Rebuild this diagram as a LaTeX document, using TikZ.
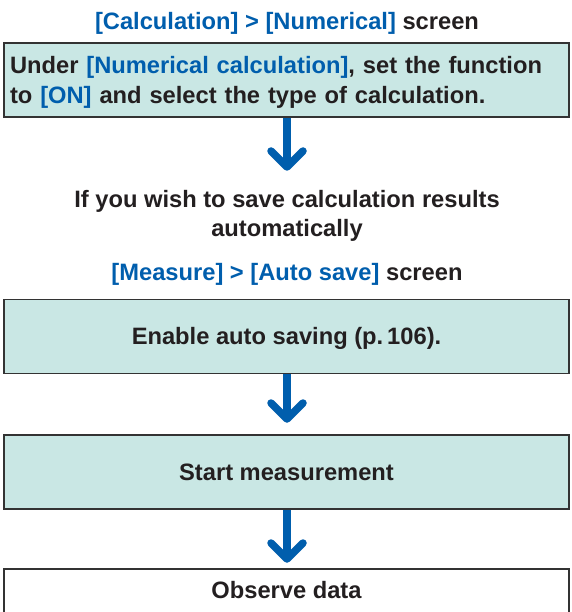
\documentclass[tikz,border=0pt]{standalone}
\usepackage{fontspec}
\setmainfont{Liberation Sans}
\usetikzlibrary{calc}
\definecolor{hblue}{HTML}{005EAD}
\definecolor{htext}{HTML}{231F20}
\definecolor{hfill}{HTML}{C9E7E4}
\definecolor{hedge}{HTML}{333333}
\tikzset{
  txt/.style={font=\bfseries\fontsize{23.7}{29.4}\selectfont, text=htext, inner sep=0pt},
  stepbox/.style={draw=hedge, line width=1.3pt, fill=hfill, minimum width=565pt, minimum height=74pt, inner sep=0pt, txt, text height=16.7pt, text depth=0pt},
  flowarrow/.style={draw=hblue, line width=7.5pt},
  chevron/.style={draw=hblue, line width=7.5pt, line cap=round, line join=round},
}
\newcommand{\hb}[1]{\textcolor{hblue}{#1}}
\begin{document}
\begin{tikzpicture}[x=1pt,y=1pt]
\clip (0,0) rectangle (571,-612);
\fill[white] (0,0) rectangle (571,-612);
\node[txt, anchor=base] (t1) at (287,-29.3) {\hb{[Calculation] > [Numerical]} screen};
\node[stepbox, align=left, text width=553pt, text height=16.7pt, text depth=28.7pt] (b1) at (286.5,-80) {Under \hb{[Numerical calculation]}, set the function\\to \hb{[ON]} and select the type of calculation.};
\coordinate (a1) at (287,-167);
\draw[flowarrow] (b1.south -| a1) -- (a1);
\draw[chevron] ($(a1)+(-16,16)$) -- (a1) -- ($(a1)+(16,16)$);
\node[txt, align=center, text height=46.1pt, anchor=north] (t2) at (287,-190.6) {If you wish to save calculation results\\automatically};
\node[txt, anchor=base] (t3) at (287,-280) {\hb{[Measure] > [Auto save]} screen};
\node[stepbox] (b2) at (286.5,-336.5) {Enable auto saving (p.\,106).};
\coordinate (a2) at (287,-419);
\draw[flowarrow] (b2.south -| a2) -- (a2);
\draw[chevron] ($(a2)+(-16,16)$) -- (a2) -- ($(a2)+(16,16)$);
\node[stepbox] (b3) at (286.5,-472) {Start measurement};
\coordinate (a3) at (287,-559);
\draw[flowarrow] (b3.south -| a3) -- (a3);
\draw[chevron] ($(a3)+(-16,16)$) -- (a3) -- ($(a3)+(16,16)$);
\node[stepbox, fill=white, minimum height=0pt, text depth=45pt, inner ysep=12.8pt] (b4) at (286.5,-612.5) {Observe data};
\end{tikzpicture}
\end{document}
